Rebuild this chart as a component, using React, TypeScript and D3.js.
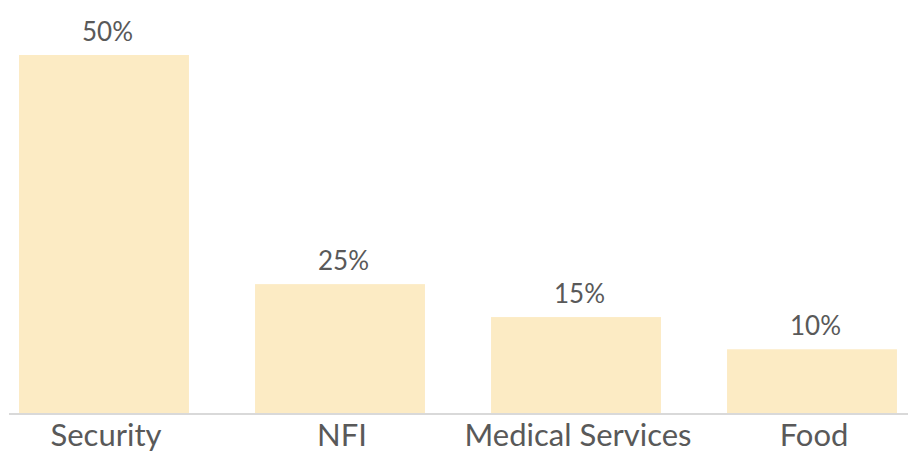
import React, { useRef, useEffect } from "react";
import * as d3 from "d3";

const categories = ["Security", "NFI", "Medical Services", "Food"];
const values = [50, 18, 13.4, 8.9];
const valueLabels = ["50%", "25%", "15%", "10%"];

const W = 908;
const H = 456;

export default function App() {
  const ref = useRef<SVGSVGElement>(null);
  useEffect(() => {
    const svg = d3.select(ref.current);
    svg.selectAll("*").remove();
    const baseY = 413;
    const x = d3.scaleBand<string>().domain(categories).range([-14, 930]).paddingInner(0.28).paddingOuter(0.14);
    const y = d3.scaleLinear().domain([0, 50]).range([baseY, 55]);
    const font = "Lato, 'Open Sans', sans-serif";

    svg.selectAll("rect.bar").data(values).enter().append("rect")
      .attr("class", "bar")
      .attr("x", (_, i) => x(categories[i])!)
      .attr("width", x.bandwidth())
      .attr("y", d => y(d))
      .attr("height", d => baseY - y(d))
      .attr("fill", "#FCEBC4");

    svg.append("line").attr("x1", 9).attr("x2", W).attr("y1", 414).attr("y2", 414)
      .attr("stroke", "#d9d9d9").attr("stroke-width", 2);

    svg.selectAll("text.val").data(values).enter().append("text")
      .attr("class", "val")
      .attr("x", (_, i) => x(categories[i])! + x.bandwidth() / 2 + 3.5)
      .attr("y", d => y(d) - 14)
      .attr("text-anchor", "middle")
      .attr("font-family", font)
      .attr("font-size", 26)
      .attr("fill", "#595959")
      .text((_, i) => valueLabels[i]);

    svg.selectAll("text.cat").data(categories).enter().append("text")
      .attr("class", "cat")
      .attr("x", d => x(d)! + x.bandwidth() / 2 + 2)
      .attr("y", 446)
      .attr("text-anchor", "middle")
      .attr("font-family", font)
      .attr("font-size", 31)
      .attr("fill", "#595959")
      .text(d => d);
  }, []);
  return (
    <svg ref={ref} width={W} height={H} style={{ position: "absolute", left: 0, top: 0, background: "#fff" }} />
  );
}
